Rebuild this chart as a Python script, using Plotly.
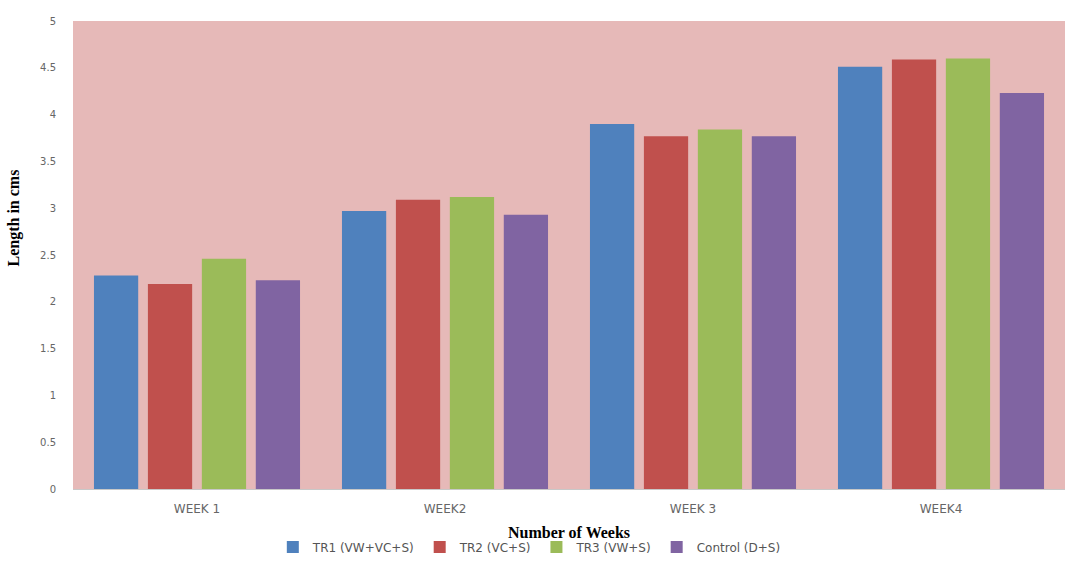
import plotly.graph_objects as go

weeks = ["WEEK 1", "WEEK2", "WEEK 3", "WEEK4"]
series_names = ["TR1 (VW+VC+S)", "TR2 (VC+S)", "TR3 (VW+S)", "Control (D+S)"]
tr1 = [2.28, 2.97, 3.90, 4.51]
tr2 = [2.19, 3.09, 3.77, 4.59]
tr3 = [2.46, 3.12, 3.84, 4.60]
control = [2.23, 2.93, 3.77, 4.23]
colors = ["#4F81BD", "#C0504D", "#9BBB59", "#8064A2"]
y_ticks = [0, 0.5, 1, 1.5, 2, 2.5, 3, 3.5, 4, 4.5, 5]

fig = go.Figure()
for name, vals, col in zip(series_names, [tr1, tr2, tr3, control], colors):
    fig.add_trace(go.Bar(x=weeks, y=vals, name=name, marker=dict(color=col, line=dict(width=0))))

ytick_font = dict(family="DejaVu Sans", size=10, color="#666666")
xtick_font = dict(family="DejaVu Sans", size=12, color="#666666")
title_font = dict(family="Liberation Serif", size=16, color="#000000")

fig.update_layout(
    width=1065, height=580,
    margin=dict(l=73, r=0, t=21, b=91),
    paper_bgcolor="white",
    plot_bgcolor="#E6B9B8",
    barmode="group",
    bargap=0.13,
    bargroupgap=0.18,
    showlegend=True,
    legend=dict(orientation="h", x=0.46, xanchor="center", y=-0.124, yanchor="middle",
                font=dict(family="DejaVu Sans", size=12, color="#555555"),
                itemwidth=30, traceorder="normal"),
    xaxis=dict(showgrid=False, showline=True, linecolor="#C8C8C8", linewidth=1,
               tickfont=xtick_font, ticks="", ticklabelstandoff=9),
    yaxis=dict(range=[0, 5], tickvals=y_ticks, ticktext=[("%g" % v) for v in y_ticks],
               showgrid=False, zeroline=False, showline=False,
               tickfont=ytick_font, ticks="", ticklabelstandoff=16),
    annotations=[
        dict(text="<b>Number of Weeks</b>", xref="paper", yref="paper", x=0.5, y=-0.094,
             xanchor="center", yanchor="middle", showarrow=False, font=title_font),
        dict(text="<b>Length in cms</b>", xref="paper", yref="paper", x=-0.059, y=0.579,
             xanchor="center", yanchor="middle", showarrow=False, textangle=-90, font=title_font),
    ],
)

fig.write_html("out.html")
